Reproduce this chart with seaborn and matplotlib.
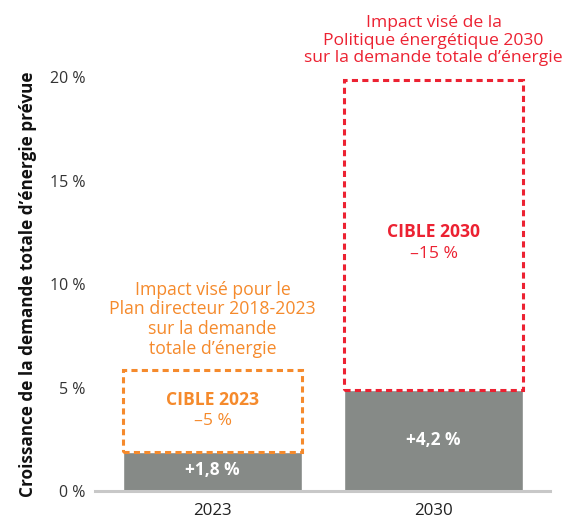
import matplotlib
matplotlib.use("Agg")
import matplotlib.pyplot as plt
import seaborn as sns
import pandas as pd

# ----------------------------------------------------------------------------------------------
# Data
# ----------------------------------------------------------------------------------------------
years = ["2023", "2030"]
growth = [1.9, 4.9]            # drawn height of the grey bars
growth_labels = ["+1,8 %", "+4,2 %"]
target_top = [5.85, 19.85]     # top of the dashed target boxes
target_names = ["CIBLE 2023", "CIBLE 2030"]
target_labels = ["–5 %", "–15 %"]
notes = [
    "Impact visé pour le\nPlan directeur 2018-2023\nsur la demande\ntotale d’énergie",
    "Impact visé de la\nPolitique énergétique 2030\nsur la demande totale d’énergie",
]
y_ticks = [0, 5, 10, 15, 20]
y_tick_labels = ["0 %", "5 %", "10 %", "15 %", "20 %"]

grey = "#868a87"
colors = ["#f58a2c", "#ec2232"]

df = pd.DataFrame({"year": years, "growth": growth})

# ----------------------------------------------------------------------------------------------
# Plot
# ----------------------------------------------------------------------------------------------
sns.set_style("white")
plt.rcParams["font.family"] = ["Open Sans", "DejaVu Sans"]

fig = plt.figure(figsize=(5.67, 5.2), dpi=100)
ax = fig.add_axes([0.1675, 0.0558, 0.8025, 0.796])

sns.barplot(data=df, x="year", y="growth", color=grey, saturation=1, width=0.81, ax=ax)

# dashed target boxes stacked on the grey bars
for i in range(len(years)):
    ax.bar(
        i,
        target_top[i] - growth[i],
        bottom=growth[i],
        width=0.81,
        fill=False,
        edgecolor=colors[i],
        linewidth=2.2,
        linestyle=(0, (2, 1.4)),
        zorder=3,
    )

# value labels inside the grey bars
ax.text(0, 1.02, growth_labels[0], color="white", fontsize=12.4, fontweight="bold",
        ha="center", va="center")
ax.text(1, 2.47, growth_labels[1], color="white", fontsize=12.4, fontweight="bold",
        ha="center", va="center")

# box labels
ax.text(0, 4.41, target_names[0], color=colors[0], fontsize=12.6, fontweight="bold",
        ha="center", va="center")
ax.text(0, 3.39, target_labels[0], color=colors[0], fontsize=12.6, ha="center", va="center")
ax.text(1, 12.49, target_names[1], color=colors[1], fontsize=12.6, fontweight="bold",
        ha="center", va="center")
ax.text(1, 11.43, target_labels[1], color=colors[1], fontsize=12.6, ha="center", va="center")

# notes above the boxes
ax.text(0, 8.3, notes[0], color=colors[0], fontsize=12.7, ha="center", va="center",
        linespacing=1.12)
ax.text(1, 21.76, notes[1], color=colors[1], fontsize=12.6, ha="center", va="center",
        linespacing=1.15, clip_on=False)

ax.set_xlim(-0.532, 1.527)
ax.set_ylim(0, 20)
ax.set_yticks(y_ticks)
ax.set_yticklabels(y_tick_labels, fontsize=11.5, color="#333333")
ax.tick_params(axis="x", labelsize=12.2, colors="#222222", length=0, pad=9)
ax.tick_params(axis="y", length=0, pad=7)
ax.set_xlabel("")
ax.set_ylabel("Croissance de la demande totale d’énergie prévue", fontsize=12.3,
              fontweight="bold", color="#111111", labelpad=9)

sns.despine(ax=ax, left=True)
ax.spines["bottom"].set_color("#c8c8c8")
ax.spines["bottom"].set_linewidth(2.2)

plt.savefig("out.png", dpi=100)
plt.close()
